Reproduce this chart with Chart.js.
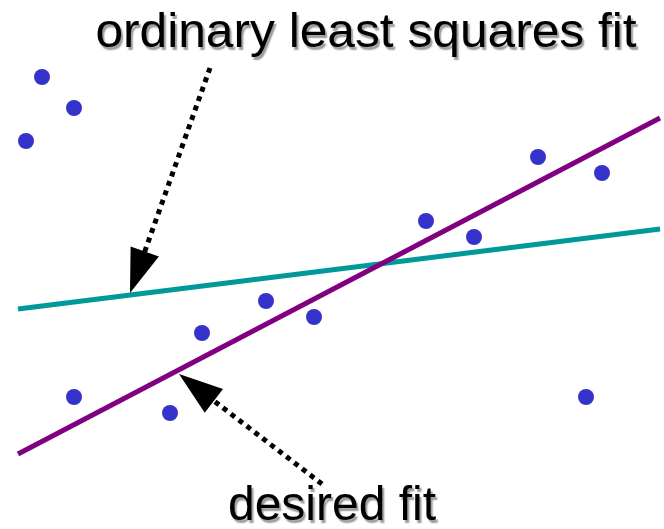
<!DOCTYPE html>
<html>
<head>
<meta charset="utf-8">
<script src="https://cdn.jsdelivr.net/npm/chart.js@4"></script>
<style>
  html, body { margin: 0; padding: 0; background: #fff; }
  #box { width: 664px; height: 529px; }
</style>
</head>
<body>
<div id="box"><canvas id="myChart" width="664" height="529"></canvas></div>
<script>
// scattered observations
var pointsX = [42, 74, 26, 538, 602, 426, 474, 266, 314, 202, 74, 170, 586];
var pointsY = [452, 421, 388, 372, 356, 308, 292, 228, 212, 196, 132, 116, 132];

// end points of the two fitted lines
var olsX = [18, 660];
var olsY = [220, 300];
var desiredX = [18, 660];
var desiredY = [75, 411];

// labels with their arrows: [tailX, tailY, tipX, tipY]
var labelText = ['ordinary least squares fit', 'desired fit'];
var labelPos = [[366, 482], [332, 9]];
var arrows = [[210, 461, 130, 236], [322, 45, 179, 155]];

function toXY(xs, ys) {
  return xs.map(function (x, i) { return { x: x, y: ys[i] }; });
}

var ctx = document.getElementById('myChart');

const annotations = {
  id: 'annotations',
  afterDatasetsDraw(chart) {
    var c = chart.ctx;
    var sx = chart.scales.x, sy = chart.scales.y;

    arrows.forEach(function (a) {
      var x0 = sx.getPixelForValue(a[0]), y0 = sy.getPixelForValue(a[1]);
      var x1 = sx.getPixelForValue(a[2]), y1 = sy.getPixelForValue(a[3]);
      var ang = Math.atan2(y1 - y0, x1 - x0);
      var headLen = 44, headW = 15;
      var bx = x1 - headLen * Math.cos(ang), by = y1 - headLen * Math.sin(ang);

      c.save();
      c.strokeStyle = '#000';
      c.lineWidth = 5;
      c.setLineDash([5, 5]);
      c.beginPath();
      c.moveTo(x0, y0);
      c.lineTo(bx + 6 * Math.cos(ang), by + 6 * Math.sin(ang));
      c.stroke();
      c.setLineDash([]);

      c.fillStyle = '#000';
      c.beginPath();
      c.moveTo(x1, y1);
      c.lineTo(bx + headW * Math.sin(ang), by - headW * Math.cos(ang));
      c.lineTo(bx - headW * Math.sin(ang), by + headW * Math.cos(ang));
      c.closePath();
      c.fill();
      c.restore();
    });

    // labels, the top one slightly stretched sideways
    var stretch = [1.035, 1];
    c.save();
    c.font = '48px "Liberation Sans", Arial, sans-serif';
    c.textAlign = 'center';
    c.textBaseline = 'alphabetic';
    c.fillStyle = '#000';
    c.shadowColor = 'rgba(120,120,120,0.75)';
    c.shadowOffsetX = 2;
    c.shadowOffsetY = 3;
    c.shadowBlur = 1.5;
    labelText.forEach(function (t, i) {
      var px = sx.getPixelForValue(labelPos[i][0]);
      var py = sy.getPixelForValue(labelPos[i][1]);
      c.save();
      c.translate(px, py);
      c.scale(stretch[i], 1);
      c.fillText(t, 0, 0);
      c.restore();
    });
    c.restore();
  }
};

const datachart = {
  datasets: [
    {
      type: 'line',
      label: 'desired fit',
      data: toXY(desiredX, desiredY),
      borderColor: '#800080',
      borderWidth: 5,
      pointRadius: 0,
      order: 2
    },
    {
      type: 'line',
      label: 'ordinary least squares fit',
      data: toXY(olsX, olsY),
      borderColor: '#009999',
      borderWidth: 5,
      pointRadius: 0,
      order: 3
    },
    {
      type: 'scatter',
      label: 'data',
      data: toXY(pointsX, pointsY),
      backgroundColor: '#3333cc',
      borderWidth: 0,
      pointRadius: 8,
      order: 1
    }
  ]
}

const config = {
  type: 'scatter',
  data: datachart,
  options: {
    responsive: false,
    animation: false,
    layout: { padding: 0, autoPadding: false },
    plugins: { legend: { display: false }, tooltip: { enabled: false } },
    scales: {
      x: { type: 'linear', min: 0, max: 664, display: false },
      y: { type: 'linear', min: 0, max: 529, display: false }
    }
  },
  plugins: [annotations]
}
const myChart = new Chart(ctx, config);
</script>
</body>
</html>
